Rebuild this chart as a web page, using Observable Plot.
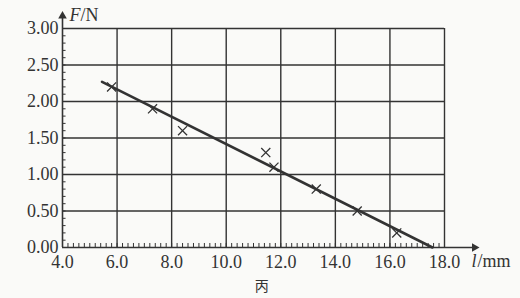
<!DOCTYPE html>
<html><head><meta charset="utf-8">
<script src="https://cdn.jsdelivr.net/npm/d3@7"></script>
<script src="https://cdn.jsdelivr.net/npm/@observablehq/plot@0.6"></script>
<style>html,body{margin:0;padding:0;background:#fafaf8;} svg{display:block}</style>
</head><body><div id="chart"></div>
<script>
// measured points (l in mm, F in N)
const lengthMM = [5.8, 7.3, 8.4, 11.45, 11.75, 13.3, 14.8, 16.25];
const forceN   = [2.20, 1.90, 1.60, 1.30, 1.10, 0.80, 0.50, 0.20];
// fitted straight line end points
const fitL = [5.45, 17.56];
const fitF = [2.27, 0.00];
// ticks
const xTicks = [4, 6, 8, 10, 12, 14, 16, 18];
const xTickLabels = ["4.0", "6.0", "8.0", "10.0", "12.0", "14.0", "16.0", "18.0"];
const yTicks = [0, 0.5, 1, 1.5, 2, 2.5, 3];
const yTickLabels = ["0.00", "0.50", "1.00", "1.50", "2.00", "2.50", "3.00"];
const xMinor = d3.range(4, 18.001, 0.2);
const yMinor = d3.range(0, 3.001, 0.1);

const pts = lengthMM.map((l, i) => ({l, F: forceN[i]}));
const fit = fitL.map((l, i) => ({l, F: fitF[i]}));
const xt = xTicks.map((v, i) => ({v, t: xTickLabels[i]}));
const yt = yTicks.map((v, i) => ({v, t: yTickLabels[i]}));

const ink = "#333";
const serif = "'Liberation Serif', 'Times New Roman', serif";
const fs = 18;
const chart = Plot.plot({
  width: 520, height: 298,
  marginLeft: 62, marginRight: 76, marginTop: 28, marginBottom: 51,
  style: {background: "#fafaf8", fontFamily: serif, fontSize: fs + "px", color: ink},
  x: {domain: [4, 18], axis: null},
  y: {domain: [0, 3], axis: null},
  marks: [
    Plot.ruleX(xTicks.slice(1), {y1: 0, y2: 3, stroke: ink, strokeWidth: 1.4}),
    Plot.ruleY(yTicks.slice(1), {x1: 4, x2: 18, stroke: ink, strokeWidth: 1.4}),
    Plot.ruleX(xMinor, {y1: 0, y2: 0.055, stroke: ink, strokeWidth: 1}),
    Plot.ruleY(yMinor, {x1: 4, x2: 4.13, stroke: ink, strokeWidth: 1}),
    Plot.ruleX([4], {y1: 0, y2: 3.17, stroke: ink, strokeWidth: 1.6}),
    Plot.ruleY([0], {x1: 4, x2: 19.1, stroke: ink, strokeWidth: 1.6}),
    Plot.dot([{x: 4, y: 3.17}], {x: "x", y: "y", symbol: "triangle", r: 3.2, fill: ink, stroke: "none"}),
    Plot.dot([{x: 19.1, y: 0}], {x: "x", y: "y", symbol: "triangle", r: 3.2, fill: ink, stroke: "none", rotate: 90}),
    Plot.line(fit, {x: "l", y: "F", stroke: ink, strokeWidth: 2.6}),
    Plot.dot(pts, {x: "l", y: "F", symbol: "times", r: 4.2, stroke: ink, strokeWidth: 1.3}),
    Plot.text(xt, {x: "v", y: 0, text: "t", dy: 15, fill: ink, fontFamily: serif, fontSize: fs}),
    Plot.text(yt, {x: 4, y: "v", text: "t", dx: -4, textAnchor: "end", fill: ink, fontFamily: serif, fontSize: fs}),
    Plot.text([{x: 4, y: 3.2}], {x: "x", y: "y", text: () => "F", dx: 7, dy: 1, textAnchor: "start", fontStyle: "italic", fill: ink, fontFamily: serif, fontSize: fs}),
    Plot.text([{x: 4, y: 3.2}], {x: "x", y: "y", text: () => "/N", dx: 18, dy: 1, textAnchor: "start", fill: ink, fontFamily: serif, fontSize: fs}),
    Plot.text([{x: 18, y: 0}], {x: "x", y: "y", text: () => "l", dx: 27, dy: 14, textAnchor: "start", fontStyle: "italic", fill: ink, fontFamily: serif, fontSize: fs}),
    Plot.text([{x: 18, y: 0}], {x: "x", y: "y", text: () => "/mm", dx: 33, dy: 14, textAnchor: "start", fill: ink, fontFamily: serif, fontSize: fs}),
    Plot.text([{x: 11.3, y: 0}], {x: "x", y: "y", text: () => "丙", dy: 39, fontFamily: "'Noto Sans CJK SC'", fontSize: 14, fill: ink})
  ]
});
document.getElementById("chart").append(chart);
</script></body></html>
